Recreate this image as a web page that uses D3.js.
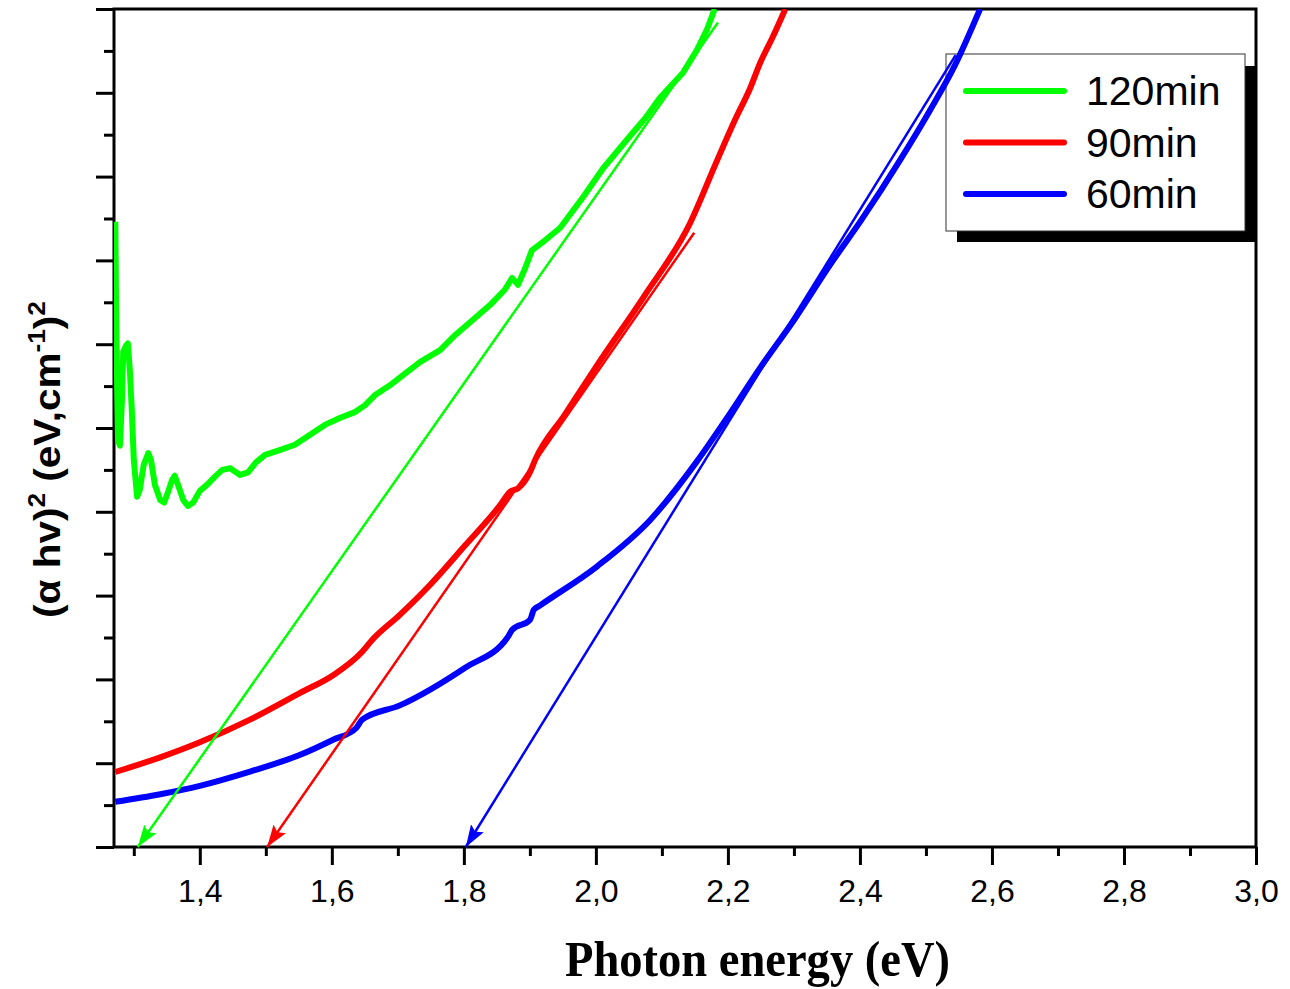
<!DOCTYPE html>
<html>
<head>
<meta charset="utf-8">
<script src="https://cdn.jsdelivr.net/npm/d3@7.9.0/dist/d3.min.js"></script>
<style>
  body { margin: 0; background: #fff; }
</style>
</head>
<body>
<svg id="chart" width="1290" height="989"></svg>
<script>
// Data: [photon energy (eV), (alpha h nu)^2 in arbitrary units]
const series120 = [[1.272,7.46],[1.273,6.53],[1.275,5.33],[1.276,4.86],[1.279,4.79],[1.282,5.33],[1.284,5.91],[1.288,5.98],[1.291,6.01],[1.294,5.69],[1.297,5.21],[1.300,4.62],[1.305,4.18],[1.309,4.26],[1.315,4.56],[1.322,4.70],[1.326,4.62],[1.332,4.32],[1.340,4.14],[1.346,4.11],[1.352,4.24],[1.358,4.38],[1.362,4.43],[1.367,4.32],[1.375,4.14],[1.382,4.07],[1.390,4.11],[1.400,4.25],[1.412,4.33],[1.423,4.42],[1.434,4.50],[1.446,4.52],[1.461,4.44],[1.473,4.47],[1.485,4.59],[1.499,4.68],[1.522,4.74],[1.544,4.80],[1.567,4.92],[1.590,5.04],[1.612,5.12],[1.635,5.19],[1.650,5.27],[1.665,5.39],[1.688,5.51],[1.703,5.60],[1.734,5.79],[1.764,5.93],[1.787,6.11],[1.809,6.26],[1.840,6.47],[1.862,6.65],[1.873,6.79],[1.882,6.71],[1.893,6.91],[1.903,7.12],[1.923,7.24],[1.946,7.39],[1.981,7.76],[2.011,8.10],[2.047,8.44],[2.075,8.70],[2.097,8.94],[2.132,9.24],[2.153,9.51],[2.168,9.75],[2.180,10.0]];

const series90 = [[1.272,0.895],[1.340,1.07],[1.400,1.25],[1.476,1.52],[1.552,1.84],[1.602,2.05],[1.646,2.33],[1.661,2.47],[1.703,2.77],[1.749,3.13],[1.802,3.60],[1.855,4.08],[1.870,4.24],[1.882,4.28],[1.900,4.47],[1.908,4.62],[1.953,5.16],[2.002,5.75],[2.072,6.56],[2.143,7.45],[2.184,8.20],[2.211,8.68],[2.234,9.06],[2.249,9.36],[2.267,9.65],[2.287,10.0]];

const series60 = [[1.272,0.54],[1.340,0.63],[1.400,0.73],[1.476,0.90],[1.552,1.10],[1.602,1.28],[1.637,1.42],[1.646,1.52],[1.703,1.69],[1.802,2.14],[1.867,2.51],[1.873,2.59],[1.900,2.71],[1.906,2.83],[1.915,2.88],[2.002,3.35],[2.082,3.90],[2.152,4.59],[2.202,5.16],[2.249,5.72],[2.302,6.31],[2.355,6.95],[2.402,7.48],[2.461,8.20],[2.506,8.79],[2.544,9.33],[2.582,10.0]];

// tangent lines: [upper end, intercept on the energy axis]
const fit120 = [[2.185, 9.84], [1.306, 0]];
const fit90 = [[2.149, 7.33], [1.502, 0]];
const fit60 = [[2.545, 9.45], [1.803, 0]];

const legendNames = ["120min", "90min", "60min"];
const colors = ["#00ff00", "#ff0000", "#0000ff"];

const xMajor = [1.4, 1.6, 1.8, 2.0, 2.2, 2.4, 2.6, 2.8, 3.0];
const xMinor = [1.3, 1.5, 1.7, 1.9, 2.1, 2.3, 2.5, 2.7, 2.9];
const yMajor = d3.range(0, 10.01, 1);
const yMinor = d3.range(0.5, 10, 1);

const svg = d3.select("#chart");
const plotLeft = 114, plotRight = 1256, plotTop = 9, plotBottom = 847;

const x = d3.scaleLinear().domain([1.27, 3.0]).range([plotLeft, plotRight]);
const y = d3.scaleLinear().domain([0, 10]).range([plotBottom, plotTop]);

// clip for data lines
const defs = svg.append("defs");
defs.append("clipPath").attr("id", "plotClip")
  .append("rect").attr("x", plotLeft).attr("y", plotTop)
  .attr("width", plotRight - plotLeft).attr("height", plotBottom - plotTop);

// arrowheads
colors.forEach((c, i) => {
  defs.append("marker")
    .attr("id", "arrow" + i)
    .attr("viewBox", "-22 -8 22 16")
    .attr("refX", 0).attr("refY", 0)
    .attr("markerWidth", 22).attr("markerHeight", 16)
    .attr("markerUnits", "userSpaceOnUse")
    .attr("orient", "auto")
    .append("path")
    .attr("d", "M-22,-7.5 L0,0 L-22,7.5 L-18,0 Z")
    .attr("fill", c);
});

// axes
const fmt = d => d3.format(".1f")(d).replace(".", ",");

const xAxis = d3.axisBottom(x).tickValues(xMajor).tickSize(18).tickPadding(14).tickFormat(fmt);
const xAxisMinor = d3.axisBottom(x).tickValues(xMinor).tickSize(9).tickFormat("");
const yAxis = d3.axisLeft(y).tickValues(yMajor).tickSize(18).tickFormat("");
const yAxisMinor = d3.axisLeft(y).tickValues(yMinor).tickSize(10).tickFormat("");

function styleAxis(g) {
  g.select(".domain").remove();
  g.selectAll(".tick line").attr("stroke", "#000").attr("stroke-width", 3);
  g.selectAll(".tick text")
    .attr("font-family", "Liberation Sans, Arial, sans-serif")
    .attr("font-size", 32).attr("fill", "#000");
}

svg.append("g").attr("transform", `translate(0,${plotBottom})`).call(xAxis).call(styleAxis);
svg.append("g").attr("transform", `translate(0,${plotBottom})`).call(xAxisMinor).call(styleAxis);
svg.append("g").attr("transform", `translate(${plotLeft},0)`).call(yAxis).call(styleAxis);
svg.append("g").attr("transform", `translate(${plotLeft},0)`).call(yAxisMinor).call(styleAxis);

// frame
svg.append("rect")
  .attr("x", plotLeft).attr("y", plotTop)
  .attr("width", plotRight - plotLeft).attr("height", plotBottom - plotTop)
  .attr("fill", "none").attr("stroke", "#000").attr("stroke-width", 3);

// legend (shadow + box)
const lg = svg.append("g");
lg.append("rect").attr("x", 957).attr("y", 66).attr("width", 299).attr("height", 176).attr("fill", "#000");
lg.append("rect").attr("x", 946).attr("y", 54).attr("width", 299).attr("height", 177)
  .attr("fill", "#fff").attr("stroke", "#333").attr("stroke-width", 1);
legendNames.forEach((name, i) => {
  const ly = 91 + i * 51.5;
  lg.append("line").attr("x1", 966).attr("x2", 1064).attr("y1", ly).attr("y2", ly)
    .attr("stroke", colors[i]).attr("stroke-width", 6).attr("stroke-linecap", "round");
  lg.append("text").attr("x", 1086).attr("y", ly + 14)
    .attr("font-family", "Liberation Sans, Arial, sans-serif")
    .attr("font-size", 41).attr("fill", "#000").text(name);
});

// curves and tangents
const line = d3.line().x(d => x(d[0])).y(d => y(d[1]));
const smooth = d3.line().x(d => x(d[0])).y(d => y(d[1])).curve(d3.curveMonotoneX);
const plot = svg.append("g").attr("clip-path", "url(#plotClip)");

[fit120, fit90, fit60].forEach((f, i) => {
  svg.append("path").datum(f)
    .attr("d", line)
    .attr("fill", "none").attr("stroke", colors[i]).attr("stroke-width", 2.5)
    .attr("marker-end", `url(#arrow${i})`);
});

[series120, series90, series60].forEach((s, i) => {
  plot.append("path").datum(s)
    .attr("d", i === 0 ? line : smooth)
    .attr("fill", "none").attr("stroke", colors[i]).attr("stroke-width", 6)
    .attr("stroke-linejoin", "round");
});

// axis titles
svg.append("text")
  .attr("x", 565).attr("y", 976)
  .attr("font-family", "Liberation Serif, Times New Roman, serif")
  .attr("font-weight", "bold").attr("font-size", 50)
  .attr("textLength", 385).attr("lengthAdjust", "spacingAndGlyphs")
  .attr("fill", "#000")
  .text("Photon energy (eV)");

const yt = svg.append("text")
  .attr("transform", "translate(60,618) rotate(-90)")
  .attr("font-family", "Liberation Sans, Arial, sans-serif")
  .attr("font-weight", "bold").attr("font-size", 37)
  .attr("textLength", 317).attr("lengthAdjust", "spacingAndGlyphs")
  .attr("fill", "#000");
yt.append("tspan").text("(\u03B1 hv)");
yt.append("tspan").attr("font-size", 24).attr("dy", -15).text("2");
yt.append("tspan").attr("dy", 15).text(" (eV,cm");
yt.append("tspan").attr("font-size", 24).attr("dy", -15).text("-1");
yt.append("tspan").attr("dy", 15).text(")");
yt.append("tspan").attr("font-size", 24).attr("dy", -15).text("2");
</script>
</body>
</html>
